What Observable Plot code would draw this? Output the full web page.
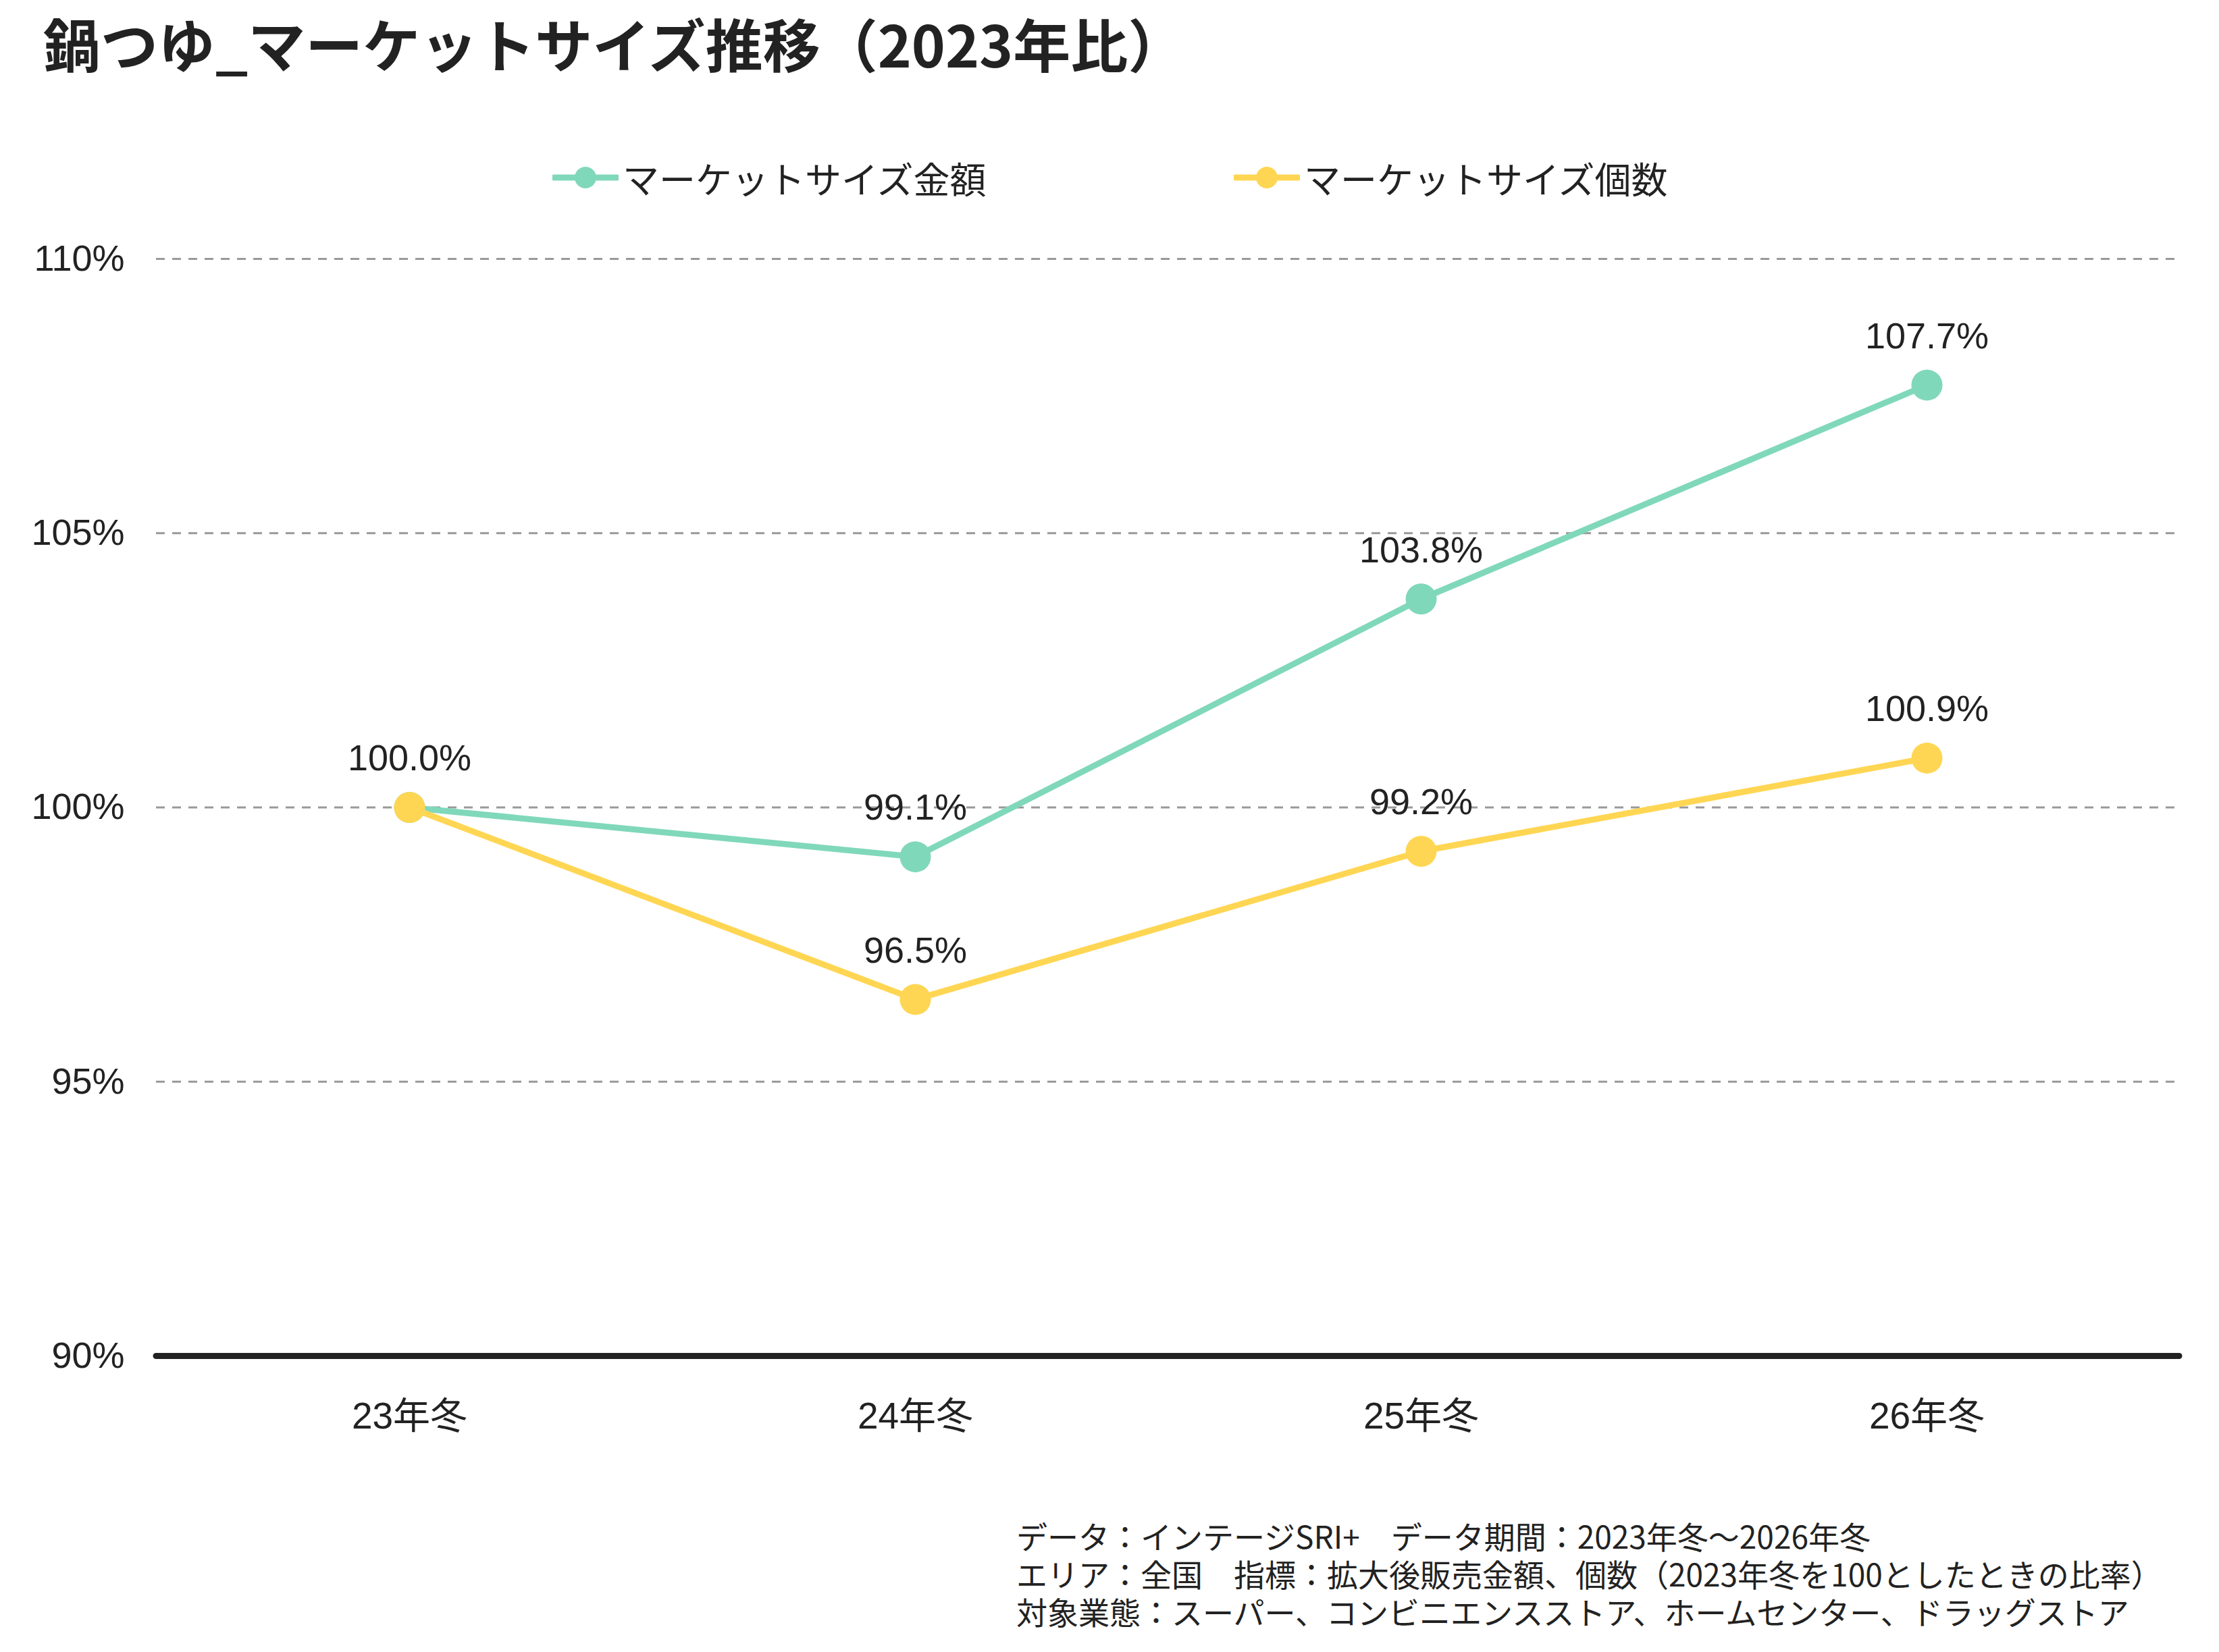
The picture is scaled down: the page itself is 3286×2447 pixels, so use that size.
<!DOCTYPE html>
<html>
<head>
<meta charset="utf-8">
<script src="https://cdn.jsdelivr.net/npm/d3@7"></script>
<script src="https://cdn.jsdelivr.net/npm/@observablehq/plot@0.6"></script>
<style>
  html, body { margin: 0; padding: 0; background: #ffffff; }
  #page { position: relative; width: 3286px; height: 2447px; background: #fff; overflow: hidden;
          font-family: "Liberation Sans", "Noto Sans CJK JP", sans-serif; color: #222; }
  #title { position: absolute; left: 64px; top: 18px; font-size: 85px; font-weight: 700; line-height: 90px;
           font-family: "Noto Sans CJK JP", sans-serif; white-space: nowrap; }
  .leg { position: absolute; top: 233px; height: 60px; display: flex; align-items: center; font-size: 54px;
         font-family: "Liberation Sans", "Noto Sans CJK JP", sans-serif; white-space: nowrap; }
  .leg svg { margin-right: 6px; }
  #chart { position: absolute; left: 0; top: 310px; }
  #note { position: absolute; left: 1505px; top: 2246px; font-size: 46px; line-height: 56px;
          font-family: "Noto Sans CJK JP", sans-serif; white-space: nowrap; }
  #note div { height: 56px; overflow: visible; }
</style>
</head>
<body>
<div id="page">
  <div id="title"></div>
  <div id="legend"></div>
  <div id="chart"></div>
  <div id="note"></div>
</div>
<script>
// ---- data ----
const titleText = "鍋つゆ_マーケットサイズ推移（2023年比）";
const periods = ["23年冬", "24年冬", "25年冬", "26年冬"];
const seriesNames = ["マーケットサイズ金額", "マーケットサイズ個数"];
const kingakuValues = [100.0, 99.1, 103.8, 107.7];
const kosuValues = [100.0, 96.5, 99.2, 100.9];
const yTicks = [90, 95, 100, 105, 110];
const gridTicks = [95, 100, 105, 110];
const seriesColors = ["#80D8BA", "#FFD653"];
const noteLines = [
  "データ：インテージSRI+　データ期間：2023年冬～2026年冬",
  "エリア：全国　指標：拡大後販売金額、個数（2023年冬を100としたときの比率）",
  "対象業態：スーパー、コンビニエンスストア、ホームセンター、ドラッグストア"
];

// ---- build rows ----
const rowsK = periods.map((p, i) => ({period: p, value: kingakuValues[i], series: seriesNames[0]}));
const rowsC = periods.map((p, i) => ({period: p, value: kosuValues[i], series: seriesNames[1]}));
// avoid printing the same label twice where both series coincide
const labelsK = rowsK.filter((d, i) => d.value !== kosuValues[i]);

document.getElementById("title").textContent = titleText;

// legend
const legendPos = [818, 1827];
const legend = document.getElementById("legend");
seriesNames.forEach((name, i) => {
  const div = document.createElement("div");
  div.className = "leg";
  div.style.left = legendPos[i] + "px";
  div.innerHTML = `<svg width="98" height="40"><line x1="2" x2="96" y1="20" y2="20" stroke="${seriesColors[i]}" stroke-width="9" stroke-linecap="round"/><circle cx="49" cy="20" r="16" fill="${seriesColors[i]}"/></svg><span>${name}</span>`;
  legend.appendChild(div);
});

// notes
document.getElementById("note").innerHTML = noteLines.map(t => `<div>${t}</div>`).join("");

const fmt = d => d.value.toFixed(1) + "%";

const chart = Plot.plot({
  width: 3286,
  height: 1858,
  marginTop: 73,
  marginBottom: 160,
  marginLeft: 231,
  marginRight: 59,
  style: {fontFamily: '"Liberation Sans", "Noto Sans CJK JP", sans-serif', fontSize: "54px", color: "#222", background: "transparent"},
  x: {type: "point", domain: periods, padding: 0.5},
  y: {domain: [90, 110]},
  marks: [
    Plot.ruleY(gridTicks, {stroke: "#999", strokeWidth: 3, strokeDasharray: "13,11"}),
    Plot.ruleY([yTicks[0]], {stroke: "#222", strokeWidth: 9, strokeLinecap: "round"}),
    Plot.axisY({ticks: yTicks, tickFormat: d => d + "%", tickSize: 0, tickPadding: 47, label: null, fontSize: 54, fill: "#222"}),
    Plot.axisX({tickSize: 0, tickPadding: 68, label: null, fontSize: 55, fill: "#222"}),
    Plot.line(rowsK, {x: "period", y: "value", stroke: seriesColors[0], strokeWidth: 9}),
    Plot.dot(rowsK, {x: "period", y: "value", r: 23, fill: seriesColors[0]}),
    Plot.line(rowsC, {x: "period", y: "value", stroke: seriesColors[1], strokeWidth: 9}),
    Plot.dot(rowsC, {x: "period", y: "value", r: 23, fill: seriesColors[1]}),
    Plot.text(labelsK, {x: "period", y: "value", text: fmt, dy: -72, fontSize: 54, fill: "#222"}),
    Plot.text(rowsC, {x: "period", y: "value", text: fmt, dy: -72, fontSize: 54, fill: "#222"})
  ]
});
document.getElementById("chart").appendChild(chart);
</script>
</body>
</html>
